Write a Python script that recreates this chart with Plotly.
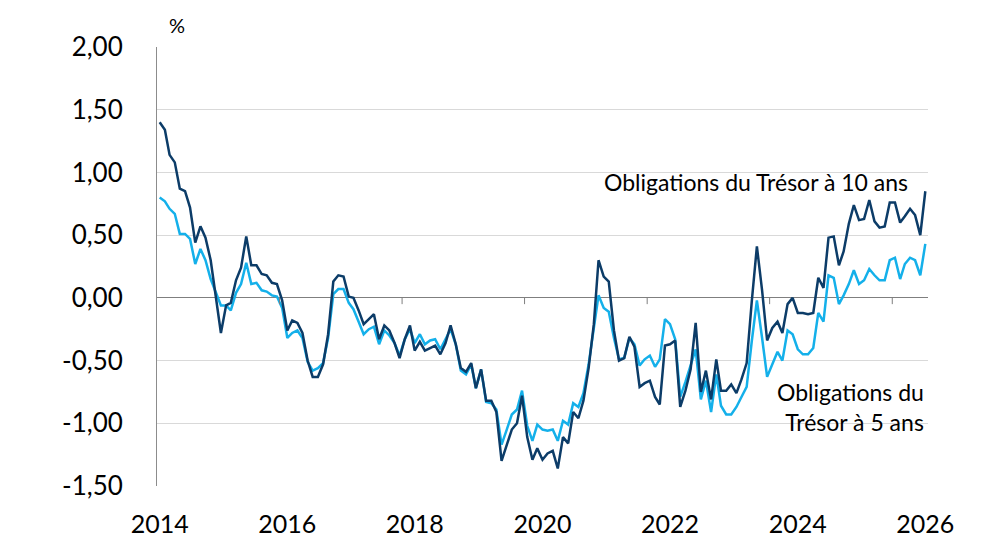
import pandas as pd
import plotly.graph_objects as go

# monthly observations, Jan 2014 onwards
months = pd.date_range("2014-01-01", periods=151, freq="MS")

# 10 year yield, %
yield_10y = [
    1.40, 1.34, 1.14, 1.08, 0.87, 0.85, 0.72, 0.44, 0.57, 0.48,
    0.30, 0.03, -0.28, -0.06, -0.04, 0.14, 0.24, 0.49, 0.26, 0.26,
    0.19, 0.18, 0.12, 0.11, -0.02, -0.26, -0.18, -0.20, -0.28, -0.50,
    -0.63, -0.63, -0.53, -0.29, 0.13, 0.18, 0.17, 0.01, 0.00, -0.10,
    -0.21, -0.17, -0.13, -0.33, -0.22, -0.26, -0.36, -0.48, -0.33, -0.22,
    -0.42, -0.35, -0.42, -0.40, -0.38, -0.45, -0.36, -0.22, -0.37, -0.56,
    -0.59, -0.52, -0.72, -0.57, -0.82, -0.82, -0.91, -1.30, -1.17, -1.05,
    -1.00, -0.78, -1.11, -1.29, -1.20, -1.29, -1.24, -1.22, -1.36, -1.11,
    -1.16, -0.91, -0.96, -0.82, -0.56, -0.21, 0.30, 0.17, 0.13, -0.26,
    -0.50, -0.48, -0.31, -0.39, -0.71, -0.68, -0.66, -0.79, -0.85, -0.38,
    -0.37, -0.34, -0.87, -0.74, -0.57, -0.20, -0.75, -0.58, -0.81, -0.49,
    -0.74, -0.74, -0.69, -0.76, -0.65, -0.52, -0.02, 0.41, 0.06, -0.34,
    -0.24, -0.19, -0.28, -0.05, 0.00, -0.12, -0.12, -0.13, -0.12, 0.16,
    0.08, 0.48, 0.49, 0.26, 0.37, 0.59, 0.74, 0.62, 0.63, 0.78,
    0.61, 0.56, 0.57, 0.76, 0.76, 0.60, 0.65, 0.71, 0.66, 0.50,
    0.85,
]

# 5 year yield, %
yield_5y = [
    0.80, 0.77, 0.71, 0.67, 0.51, 0.51, 0.47, 0.27, 0.39, 0.30,
    0.15, 0.04, -0.06, -0.06, -0.10, 0.04, 0.11, 0.28, 0.11, 0.12,
    0.06, 0.05, 0.02, 0.01, -0.08, -0.32, -0.28, -0.26, -0.32, -0.51,
    -0.58, -0.56, -0.52, -0.32, 0.03, 0.07, 0.07, -0.04, -0.09, -0.19,
    -0.29, -0.25, -0.23, -0.37, -0.26, -0.30, -0.36, -0.46, -0.33, -0.25,
    -0.36, -0.29, -0.37, -0.34, -0.33, -0.41, -0.33, -0.25, -0.37, -0.58,
    -0.61, -0.53, -0.72, -0.57, -0.83, -0.84, -0.89, -1.17, -1.05, -0.93,
    -0.89, -0.74, -1.02, -1.14, -1.01, -1.05, -1.06, -1.05, -1.14, -0.98,
    -1.01, -0.84, -0.87, -0.76, -0.53, -0.24, 0.02, -0.08, -0.11, -0.32,
    -0.49, -0.48, -0.32, -0.37, -0.54, -0.49, -0.46, -0.55, -0.49, -0.17,
    -0.21, -0.33, -0.79, -0.67, -0.53, -0.41, -0.81, -0.66, -0.91, -0.61,
    -0.86, -0.93, -0.93, -0.87, -0.79, -0.71, -0.34, -0.02, -0.32, -0.63,
    -0.53, -0.43, -0.50, -0.26, -0.29, -0.41, -0.45, -0.45, -0.40, -0.12,
    -0.19, 0.18, 0.16, -0.05, 0.02, 0.11, 0.22, 0.11, 0.14, 0.23,
    0.18, 0.14, 0.14, 0.30, 0.32, 0.15, 0.27, 0.32, 0.30, 0.18,
    0.43,
]

x_tick_labels = ["2014", "2016", "2018", "2020", "2022", "2024", "2026"]
label_every = 25
y_tick_vals = [-1.5, -1.0, -0.5, 0.0, 0.5, 1.0, 1.5, 2.0]
y_tick_labels = ["-1,50", "-1,00", "-0,50", "0,00", "0,50", "1,00", "1,50", "2,00"]
zero_line_ticks = ["2015-12-16", "2017-12-16", "2019-12-16", "2021-12-16",
                   "2023-12-16", "2025-12-16"]

DARK = "#0c3c68"
LIGHT = "#14b0ea"
FONT = "Lato, 'Open Sans', sans-serif"

fig = go.Figure()
fig.add_trace(go.Scatter(x=months, y=yield_5y, mode="lines",
                         name="Obligations du Trésor à 5 ans",
                         line=dict(color=LIGHT, width=2.5)))
fig.add_trace(go.Scatter(x=months, y=yield_10y, mode="lines",
                         name="Obligations du Trésor à 10 ans",
                         line=dict(color=DARK, width=2.5)))

# little tick marks hanging off the zero line
for d in zero_line_ticks:
    fig.add_shape(type="line", xref="x", yref="y", x0=d, x1=d, y0=0, y1=-0.05,
                  line=dict(color="#7f7f7f", width=1))

# series labels
fig.add_annotation(text="Obligations du Trésor à 10 ans", xref="paper", yref="y",
                   x=0.977, y=0.92, xanchor="right", yanchor="middle", showarrow=False,
                   font=dict(size=23, color="#000000"))
fig.add_annotation(text="Obligations du<br>Trésor à 5 ans", xref="paper", yref="y",
                   x=0.997, y=-0.87, xanchor="right", yanchor="middle", align="right",
                   showarrow=False, font=dict(size=23, color="#000000"))
fig.add_annotation(text="%", xref="paper", yref="paper", x=0.026, y=1, xanchor="center",
                   yanchor="bottom", showarrow=False, yshift=8,
                   font=dict(size=20, color="#000000"))

# the page body adds an 8px offset, so the figure is sized to fit inside it
fig.update_layout(
    width=984, height=550,
    margin=dict(l=149, r=64, t=39, b=72),
    paper_bgcolor="white", plot_bgcolor="white",
    showlegend=False,
    font=dict(family=FONT, size=25, color="#000000"),
    xaxis=dict(
        range=["2013-12-16", "2026-07-17"],
        tickvals=list(months[::label_every]),
        ticktext=x_tick_labels,
        ticks="", showgrid=False, zeroline=False, showline=False,
        ticklabelstandoff=21,
    ),
    yaxis=dict(
        range=[-1.5, 2.0],
        tickvals=y_tick_vals, ticktext=y_tick_labels,
        tickfont=dict(size=26),
        showgrid=True, gridcolor="#d9d9d9", gridwidth=1,
        zeroline=True, zerolinecolor="#7f7f7f", zerolinewidth=1,
        showline=True, linecolor="#8c8c8c", linewidth=1,
        ticks="", ticklabelstandoff=28,
    ),
)

fig.write_html("out.html")
